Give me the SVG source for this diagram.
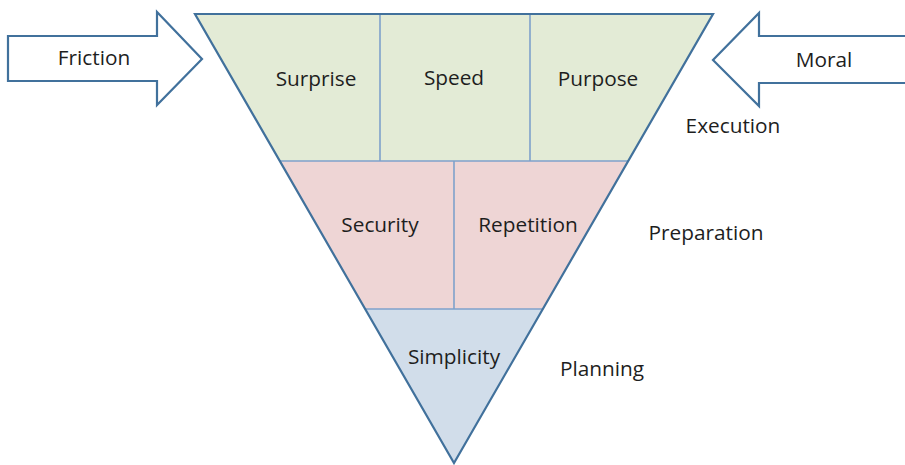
<svg xmlns="http://www.w3.org/2000/svg" width="905" height="465" viewBox="0 0 905 465">
<style>
.t{font-family:"Open Sans","Liberation Sans",sans-serif;font-size:20.8px;fill:#1E1E1E;text-anchor:middle}
.edge{fill:none;stroke:#41719C;stroke-width:2.2;stroke-linejoin:miter}
.div{fill:none;stroke:#7EA1CB;stroke-width:1.6}
.arrow{fill:#FFFFFF;stroke:#41719C;stroke-width:2.2;stroke-linejoin:miter}
</style>
<rect width="905" height="465" fill="#FFFFFF"/>
<g id="execution">
<polygon points="195,14 713,14 628,161 280,161" fill="#E3EBD6"/>
<line class="div" x1="380" y1="14" x2="380" y2="161"/>
<line class="div" x1="530" y1="14" x2="530" y2="161"/>
<text class="t" x="316" y="86">Surprise</text>
<text class="t" x="454" y="85">Speed</text>
<text class="t" x="598" y="86">Purpose</text>
</g>
<g id="preparation">
<polygon points="280,161 628,161 543,309 365,309" fill="#EED5D5"/>
<line class="div" x1="280" y1="161" x2="628" y2="161"/>
<line class="div" x1="454" y1="161" x2="454" y2="309"/>
<text class="t" x="380" y="232">Security</text>
<text class="t" x="528" y="232">Repetition</text>
</g>
<g id="planning">
<polygon points="365,309 543,309 454,463" fill="#D1DDEA"/>
<line class="div" x1="365" y1="309" x2="543" y2="309"/>
<text class="t" x="454" y="364">Simplicity</text>
</g>
<g id="outline">
<polygon class="edge" points="195,14 713,14 454,463"/>
</g>
<g id="friction">
<polygon class="arrow" points="8,36 157,36 157,12 202,59 157,105 157,81 8,81"/>
<text class="t" x="94" y="65">Friction</text>
</g>
<g id="moral">
<polygon class="arrow" points="910,36 759,36 759,13 713,60 759,106 759,83 910,83"/>
<text class="t" x="824" y="67">Moral</text>
</g>
<g id="levels">
<text class="t" x="733" y="133">Execution</text>
<text class="t" x="706" y="240">Preparation</text>
<text class="t" x="602" y="376">Planning</text>
</g>
<g id="connectors"/>
</svg>
